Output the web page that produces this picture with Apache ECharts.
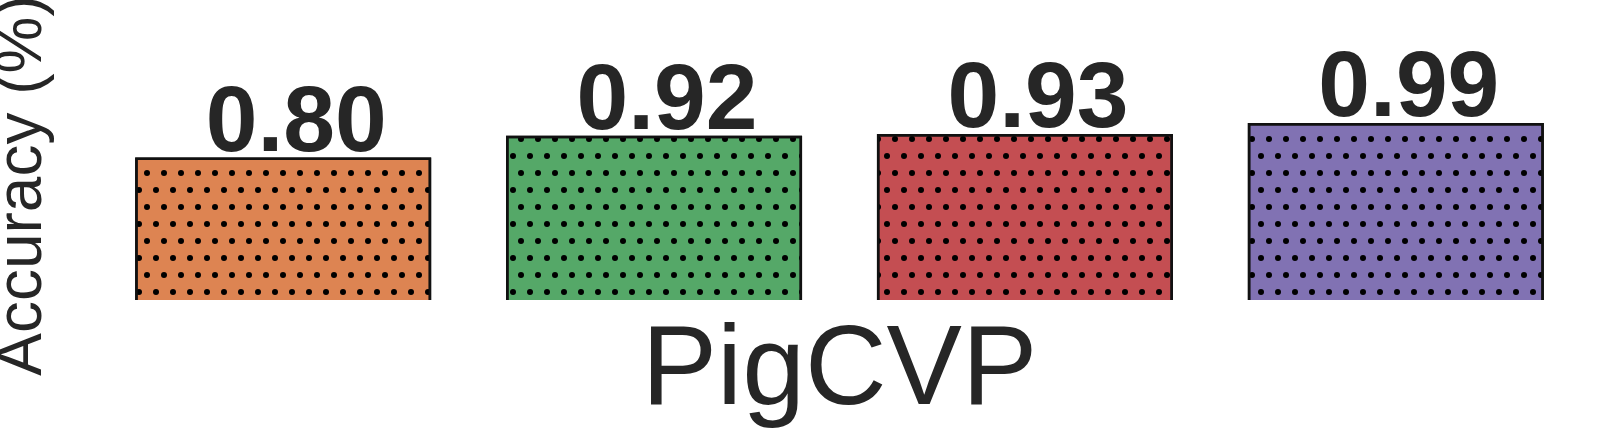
<!DOCTYPE html>
<html>
<head>
<meta charset="utf-8">
<script src="https://cdn.jsdelivr.net/npm/echarts@6/dist/echarts.min.js"></script>
<style>
  html, body { margin: 0; padding: 0; background: #fff; }
  #chart-container { width: 1614px; height: 433px; }
</style>
</head>
<body>
<div id="chart-container"></div>
<script>
var categories = ['PigCVP'];
var seriesNames = ['Model 1', 'Model 2', 'Model 3', 'Model 4'];
var accuracy = [0.80, 0.92, 0.93, 0.99];
var barColors = ['#dd8452', '#55a868', '#c44e52', '#8172b3'];

var dom = document.getElementById('chart-container');
var myChart = echarts.init(dom, null, { renderer: 'canvas' });
var textColor = '#262626';
var fontFamily = '"Liberation Sans", Arial, sans-serif';

// 点状填充，交错排列
var dotDecal = {
  symbol: 'circle',
  symbolSize: 1,
  color: '#000',
  dashArrayX: [[6, 11], [0, 8, 6, 3]],
  dashArrayY: [6, 11]
};

var series = accuracy.map(function (v, i) {
  return {
    name: seriesNames[i],
    type: 'bar',
    data: [v],
    barWidth: 296,
    barGap: '25.3%',
    clip: false,
    itemStyle: {
      color: barColors[i],
      borderColor: '#111',
      borderWidth: 2.5,
      decal: dotDecal
    },
    label: {
      show: true,
      position: 'top',
      distance: -14,
      offset: [13, 0],
      fontSize: 93,
      fontWeight: 'bold',
      color: textColor,
      fontFamily: fontFamily,
      formatter: function (p) {
        return p.value.toFixed(2);
      }
    }
  };
});

var option = {
  backgroundColor: '#fff',
  animation: false,
  grid: {
    left: 100,
    right: 35,
    top: 71,
    bottom: 133,
    outerBoundsMode: 'none' // 不要自动收缩网格
  },
  xAxis: {
    type: 'category',
    data: categories,
    axisLine: { show: false },
    axisTick: { show: false },
    axisLabel: {
      margin: 16,
      fontSize: 113,
      color: textColor,
      fontFamily: fontFamily
    }
  },
  yAxis: {
    type: 'value',
    min: 0.015,
    max: 1.277,
    axisLine: { show: false },
    axisTick: { show: false },
    axisLabel: { show: false },
    splitLine: { show: false },
    name: 'Accuracy (%)',
    nameLocation: 'middle',
    nameRotate: 90,
    nameGap: 45,
    nameTextStyle: {
      fontSize: 64,
      color: textColor,
      fontFamily: fontFamily
    }
  },
  // 遮住柱子底边，模拟被裁切的效果
  graphic: [{
    type: 'rect',
    left: 95,
    top: 300,
    z: 100,
    shape: { width: 1519, height: 12 },
    style: { fill: '#fff' }
  }],
  series: series
};

myChart.setOption(option);
window.addEventListener('resize', myChart.resize);
</script>
</body>
</html>
